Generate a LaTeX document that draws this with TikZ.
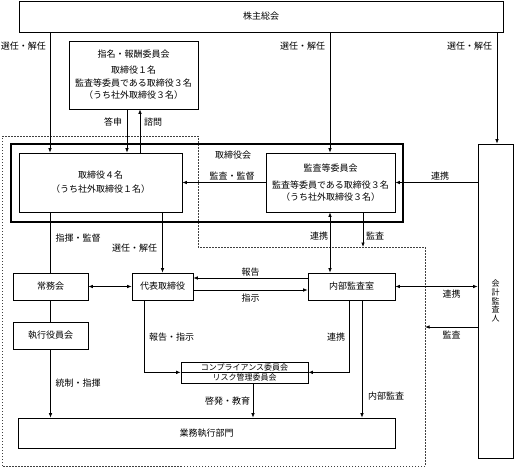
\documentclass[tikz,border=0pt]{standalone}
\usepackage{fontspec}
\newfontfamily\jp{Noto Sans CJK JP}
\usetikzlibrary{arrows.meta,calc}
\begin{document}
\begin{tikzpicture}[x=1pt,y=-1pt,
  every node/.style={font=\jp\fontsize{9}{12.5}\selectfont, inner sep=0pt},
  box/.style={draw, line width=0.7pt, align=center},
  arr/.style={-{Latex[length=4.5pt,width=3.5pt]}, line width=0.7pt},
  darr/.style={{Latex[length=4.5pt,width=3.5pt]}-{Latex[length=4.5pt,width=3.5pt]}, line width=0.7pt},
  ln/.style={line width=0.7pt},
  dotbox/.style={line width=0.8pt, black!75, dash pattern=on 1.5pt off 1.5pt},
  small/.style={font=\jp\fontsize{8}{10}\selectfont},
]
\useasboundingbox (0,0) rectangle (516,467);

% dotted region
\draw[dotbox] (2,136) -- (198,136) -- (198,247) -- (425,247) -- (425,466) -- (2,466) -- cycle;

% boxes
\node[box, minimum width=484, minimum height=31] (soukai) at (261,16.5) {株主総会};
\node[box, minimum width=129, minimum height=68] (shimei) at (133.5,75)
  {指名・報酬委員会\\[3.5pt]取締役１名\\監査等委員である取締役３名\\（うち社外取締役３名）};
\node[draw, line width=1.6pt, minimum width=392, minimum height=78] (board) at (207,183) {};
\node (boardlbl) at (233,155) {取締役会};
\node[box, minimum width=163, minimum height=59, font=\jp\fontsize{9}{14}\selectfont] (tori) at (100.5,182.5)
  {取締役４名\\（うち社外取締役１名）};
\node[box, minimum width=129, minimum height=59, font=\jp\fontsize{9}{11.5}\selectfont] (kansa) at (330.5,182.5)
  {監査等委員会\\[5.5pt]監査等委員である取締役３名\\（うち社外取締役３名）};
\node[box, minimum width=35, minimum height=314, font=\jp\fontsize{8}{8.6}\selectfont] (kaikei) at (495.5,301)
  {会\\計\\監\\査\\人};
\node[box, minimum width=75, minimum height=27] (joumu) at (50.5,286.5) {常務会};
\node[box, minimum width=61, minimum height=27] (daihyo) at (162.5,286.5) {代表取締役};
\node[box, minimum width=87, minimum height=27] (naibu) at (351.5,286.5) {内部監査室};
\node[box, minimum width=75, minimum height=27] (shikko) at (50.5,335.5) {執行役員会};
\node[box, small, minimum width=127, minimum height=10] (comp) at (244.5,367) {コンプライアンス委員会};
\node[box, small, minimum width=127, minimum height=11] (risk) at (244.5,377.5) {リスク管理委員会};
\node[box, minimum width=377, minimum height=30] (gyomu) at (206.5,433) {業務執行部門};

% free ends
\coordinate (kansaend) at (363,247);
\coordinate (kaikeiend) at (425,327);

% connectors
\draw[arr] (soukai.south -| 50,0) -- (tori.north -| 50,0);
\draw[arr] (soukai.south -| 330,0) -- (kansa.north -| 330,0);
\draw[arr] (soukai.south -| 497,0) -- (kaikei.north -| 497,0);
\draw[arr] (shimei.south -| 127,0) -- (tori.north -| 127,0);
\draw[arr] (tori.north -| 140,0) -- (shimei.south -| 140,0);
\draw[arr] (kansa.west) -- (tori.east);
\draw[arr] (kaikei.west |- kansa.east) -- (kansa.east);
\draw[ln] (tori.south -| joumu.north) -- (joumu.north);
\draw[arr] (tori.south -| daihyo.north) -- (daihyo.north);
\draw[darr] (kansa.south -| 330,0) -- (naibu.north -| 330,0);
\draw[arr] (kansa.south -| kansaend) -- (kansaend);
\draw[darr] (joumu.east) -- (daihyo.west);
\draw[arr] (naibu.west |- 0,278) -- (daihyo.east |- 0,278);
\draw[arr] (daihyo.east |- 0,290) -- (naibu.west |- 0,290);
\draw[darr] (naibu.east) -- (kaikei.west |- naibu.east);
\draw[arr] (kaikei.west |- kaikeiend) -- (kaikeiend);
\draw[ln] (joumu.south) -- (shikko.north);
\draw[arr] (shikko.south) -- (gyomu.north -| shikko.south);
\draw[arr] (daihyo.south -| 144,0) |- (comp.south west);
\draw[arr] (naibu.south -| 349,0) |- (comp.south east);
\draw[arr] (risk.south -| 253,0) -- (gyomu.north -| 253,0);
\draw[arr] (naibu.south -| 362,0) -- (gyomu.north -| 362,0);

% labels
\node (l1) at (23.5,46) {選任・解任};
\node (l2) at (302.5,46) {選任・解任};
\node (l3) at (469.5,46) {選任・解任};
\node (l4) at (113,122) {答申};
\node (l5) at (153,122) {諮問};
\node (l6) at (232,176) {監査・監督};
\node (l7) at (440,176) {連携};
\node (l8) at (78,238) {指揮・監督};
\node (l9) at (134.5,248) {選任・解任};
\node (l10) at (319,236) {連携};
\node (l11) at (375,236) {監査};
\node (l12) at (250.5,272) {報告};
\node (l13) at (250.5,298) {指示};
\node (l14) at (451.5,294) {連携};
\node (l15) at (451.5,335) {監査};
\node (l16) at (171.5,337) {報告・指示};
\node (l17) at (336,337) {連携};
\node (l18) at (78,383) {統制・指揮};
\node (l19) at (227.5,401) {啓発・教育};
\node (l20) at (386,396) {内部監査};
\end{tikzpicture}
\end{document}
